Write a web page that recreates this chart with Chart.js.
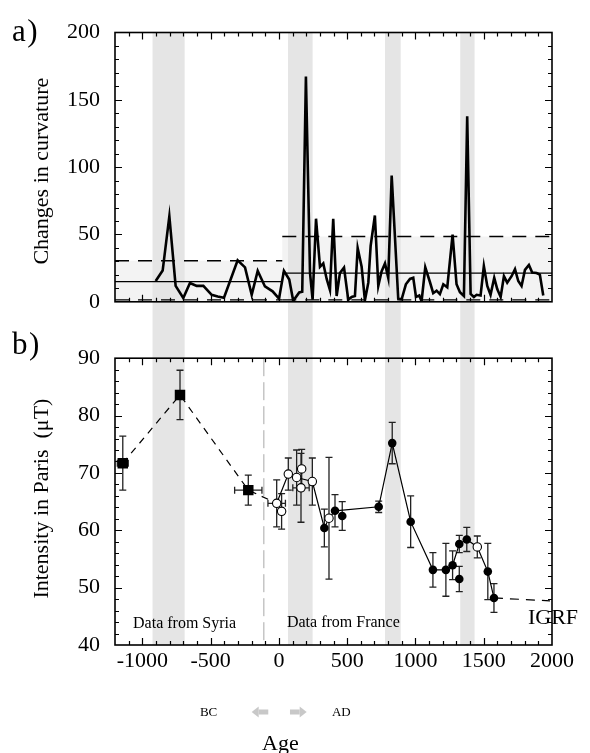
<!DOCTYPE html>
<html>
<head>
<meta charset="utf-8">
<title>Curvature changes and Paris intensity</title>
<script src="https://cdn.jsdelivr.net/npm/chart.js@4.4.0/dist/chart.umd.min.js"></script>
<style>
  html, body { margin: 0; padding: 0; background: #fff; }
  #wrap  { position: relative; width: 590px; height: 753px; }
  .panel { position: absolute; left: 0; width: 590px; }
  #topBox { top: 0;     height: 330px; }
  #botBox { top: 330px; height: 423px; }
</style>
</head>
<body>
<div id="wrap">
  <div class="panel" id="topBox"><canvas id="curvChart"></canvas></div>
  <div class="panel" id="botBox"><canvas id="intChart"></canvas></div>
</div>
<script>
'use strict';

/* ── a) changes in curvature ── */
const curvYears  = [-902, -851, -802, -756, -700, -651, -602, -553, -492, -448, -402, -302, -248, -199, -155, -102, -46, 1,
                    37, 76, 105, 149, 171, 198, 228, 247, 272, 301, 325, 350, 374, 398, 423, 447, 477, 508, 533, 557, 577,
                    606, 630, 655, 672, 703, 728, 752, 777, 801, 826, 874, 899, 930, 960, 984, 1004, 1028, 1045, 1072,
                    1106, 1130, 1155, 1179, 1204, 1233, 1272, 1301, 1326, 1355, 1379, 1404, 1428, 1448, 1477, 1501, 1526,
                    1550, 1577, 1599, 1624, 1648, 1672, 1704, 1729, 1753, 1777, 1802, 1831, 1855, 1887, 1911, 1936];
const curvValues = [15.4, 23.2, 63.6, 11.8, 2.8, 14, 11.8, 11.8, 5.2, 4, 3, 30.8, 25.6, 5.2, 23, 11.4, 7.8, 2.3,
                    23, 16.6, 0.7, 7, 7.5, 167.3, 21.4, 1.6, 61.7, 26, 28.5, 17, 8.8, 61.7, 4.3, 21.4, 25.4, 1.5, 3.6, 4.3, 39.9,
                    26, 1.1, 14.2, 41.5, 64.1, 11.8, 22.5, 28.5, 17.8, 93.7, 2.3, 1.9, 13, 17, 17.8, 3.6, 4.7, 0.4, 25.6,
                    14.7, 6.4, 8.3, 5.7, 13, 10.7, 49.9, 13, 7.1, 4.3, 137.7, 5.9, 3.6, 5.2, 4.7, 26.6, 11.8,
                    5.2, 17.8, 9.5, 3.6, 19, 14.2, 19, 24.2, 15.4, 11.8, 23.7, 27.3, 21.8, 21.4, 20.2, 4.7];
const curvTicks    = [0, 50, 100, 150, 200];

// two regimes (before / after the Syria-France switch): mean and bounds
const regimeBreaks = [-1200, 25, 2000];
const regimeMean   = [15, 21.3];
const regimeUpper  = [30.5, 48.5];
const regimeLower  = [1.5, 1.5];

// grey periods, years
const bandStart = [-925, 67, 777, 1328];
const bandEnd   = [-690, 247, 892, 1433];

/* ── b) intensity in Paris ── */
const ageTicks       = [-1000, -500, 0, 500, 1000, 1500, 2000];
const intensityTicks = [40, 50, 60, 70, 80, 90];

const syriaYears = [-1143, -724, -224];
const syriaInt   = [71.7, 83.6, 67.0];
const syriaErrY  = [4.7, 4.3, 2.6];
const syriaErrX  = [40, 0, 100];

const franceYears = [333, 411, 464, 731, 830, 965, 1128, 1223, 1272, 1321, 1321, 1376, 1530, 1575];
const franceInt   = [60.4, 63.4, 62.5, 64.1, 75.2, 61.5, 53.1, 53.1, 53.9, 51.5, 57.6, 58.4, 52.8, 48.2];
const franceErrY  = [3.3, 2.8, 2.5, 1.0, 3.6, 4.5, 3.0, 4.6, 2.5, 2.2, 1.5, 2.1, 4.9, 2.5];

const openYears = [-16, 20, 69, 130, 167, 162, 245, 367, 1453];
const openInt   = [64.7, 63.3, 69.8, 69.2, 70.7, 67.4, 68.5, 62.1, 57.1];
const openErrY  = [4.1, 3.1, 2.8, 4.8, 3.4, 6.0, 4.1, 10.6, 1.9];
const openErrX  = [64, 0, 0, 0, 0, 60, 0, 0, 0];

const trendYears = [-16, 69, 130, 245, 333, 367, 411, 731, 830, 965, 1128, 1223, 1272, 1321, 1376, 1453, 1530, 1575];
const trendInt   = [64.7, 69.8, 69.2, 68.5, 60.4, 62.1, 63.4, 64.1, 75.2, 61.5, 53.1, 53.1, 53.9, 57.6, 58.4, 57.1, 52.8, 48.2];

const syriaLinkYears = [-1143, -724, -224, -16];
const syriaLinkInt   = [71.7, 83.6, 67.0, 64.7];
const igrfYears = [1575, 1985];
const igrfInt   = [48.2, 47.7];
const splitYear = -110;

const SERIF = '"Liberation Serif", "Times New Roman", "DejaVu Serif", serif';
Chart.defaults.font.family = SERIF;
Chart.defaults.color = '#000';

const pt = (xs, ys) => xs.map((x, i) => ({ x, y: ys[i] }));

function drawBands(chart, yTop, yBottom) {
    const { ctx, scales: { x } } = chart;
    ctx.save();
    ctx.fillStyle = '#e5e5e5';
    bandStart.forEach((s, i) => {
        const x0 = x.getPixelForValue(s), x1 = x.getPixelForValue(bandEnd[i]);
        ctx.fillRect(x0, yTop, x1 - x0, yBottom - yTop);
    });
    ctx.restore();
}

function drawFrame(chart, yMinor, yMajor) {
    const { ctx, chartArea: a, scales: { x, y } } = chart;
    ctx.save();
    ctx.strokeStyle = '#000';
    ctx.lineWidth = 1.2;
    ctx.beginPath();
    for (let v = x.min + 100; v < x.max; v += 100) {
        const px = Math.round(x.getPixelForValue(v)) + 0.5;
        const len = v % 500 === 0 ? 7 : 4;
        ctx.moveTo(px, a.bottom); ctx.lineTo(px, a.bottom - len);
        ctx.moveTo(px, a.top);    ctx.lineTo(px, a.top + len);
    }
    for (let v = y.min + yMinor; v < y.max; v += yMinor) {
        const py = Math.round(y.getPixelForValue(v)) + 0.5;
        const len = Math.abs(v % yMajor) < 1e-6 ? 7 : 4;
        ctx.moveTo(a.left, py);  ctx.lineTo(a.left + len, py);
        ctx.moveTo(a.right, py); ctx.lineTo(a.right - len, py);
    }
    ctx.stroke();
    ctx.lineWidth = 1.6;
    ctx.strokeRect(a.left, a.top, a.width, a.height);
    ctx.restore();
}

function drawErrorBars(chart, xs, ys, ey, ex) {
    const { ctx, scales: { x, y } } = chart;
    const cap = 3.5;
    ctx.save();
    ctx.strokeStyle = '#222';
    ctx.lineWidth = 1.3;
    ctx.beginPath();
    xs.forEach((v, i) => {
        const px = x.getPixelForValue(v), py = y.getPixelForValue(ys[i]);
        if (ey && ey[i]) {
            const t = y.getPixelForValue(ys[i] + ey[i]), b = y.getPixelForValue(ys[i] - ey[i]);
            ctx.moveTo(px, t); ctx.lineTo(px, b);
            ctx.moveTo(px - cap, t); ctx.lineTo(px + cap, t);
            ctx.moveTo(px - cap, b); ctx.lineTo(px + cap, b);
        }
        if (ex && ex[i]) {
            const l = x.getPixelForValue(v - ex[i]), r = x.getPixelForValue(v + ex[i]);
            ctx.moveTo(l, py); ctx.lineTo(r, py);
            ctx.moveTo(l, py - cap); ctx.lineTo(l, py + cap);
            ctx.moveTo(r, py - cap); ctx.lineTo(r, py + cap);
        }
    });
    ctx.stroke();
    ctx.restore();
}

function text(ctx, str, x, y, size, align = 'left', color = '#000') {
    ctx.save();
    ctx.font = `${size}px ${SERIF}`;
    ctx.fillStyle = color;
    ctx.textAlign = align;
    ctx.textBaseline = 'alphabetic';
    ctx.fillText(str, x, y);
    ctx.restore();
}

// panel letter with its bracket set a touch apart, as in the figure
function panelTag(ctx, letter, x, y) {
    ctx.save();
    ctx.font = `31px ${SERIF}`;
    ctx.fillStyle = '#000';
    ctx.textBaseline = 'alphabetic';
    ctx.fillText(letter, x, y);
    ctx.fillText(')', x + ctx.measureText(letter).width + 1.5, y);
    ctx.restore();
}

function yTitle(ctx, str, cx, cy, size) {
    ctx.save();
    ctx.translate(cx, cy);
    ctx.rotate(-Math.PI / 2);
    ctx.font = `${size}px ${SERIF}`;
    ctx.fillStyle = '#000';
    ctx.textAlign = 'center';
    ctx.textBaseline = 'middle';
    ctx.fillText(str, 0, 0);
    ctx.restore();
}

function arrow(ctx, xTail, xHead, y) {
    const dir = Math.sign(xHead - xTail);
    const neck = xHead - dir * 7;
    ctx.save();
    ctx.fillStyle = '#c8c8c8';
    ctx.fillRect(Math.min(xTail, neck), y - 2.5, Math.abs(neck - xTail), 5);
    ctx.beginPath();
    ctx.moveTo(neck, y - 5.5); ctx.lineTo(xHead, y); ctx.lineTo(neck, y + 5.5);
    ctx.closePath(); ctx.fill();
    ctx.restore();
}

const topDecor = {
    id: 'topDecor',
    beforeDatasetsDraw(chart) {
        const { ctx, chartArea: a, scales: { x, y } } = chart;
        ctx.save();
        ctx.fillStyle = '#f3f3f3';
        regimeUpper.forEach((u, i) => {
            const x0 = x.getPixelForValue(regimeBreaks[i]), x1 = x.getPixelForValue(regimeBreaks[i + 1]);
            const yu = y.getPixelForValue(u);
            ctx.fillRect(x0, yu, x1 - x0, a.bottom - yu);
        });
        ctx.restore();
        drawBands(chart, a.top, chart.height);
    },
    afterDatasetsDraw(chart) {
        const { ctx, chartArea: a } = chart;
        drawFrame(chart, 10, 50);
        panelTag(ctx, 'a', 12, 41);
        yTitle(ctx, 'Changes in curvature', 42, (a.top + a.bottom) / 2 + 4, 22);
    }
};

const bottomDecor = {
    id: 'bottomDecor',
    beforeDatasetsDraw(chart) {
        const { ctx, chartArea: a, scales: { x } } = chart;
        drawBands(chart, 0, a.bottom);
        const sx = x.getPixelForValue(splitYear);
        ctx.save();
        ctx.strokeStyle = '#a8a8a8';
        ctx.lineWidth = 1;
        ctx.setLineDash([18, 6]);
        ctx.beginPath(); ctx.moveTo(sx, a.top); ctx.lineTo(sx, a.bottom); ctx.stroke();
        ctx.restore();
        drawErrorBars(chart, syriaYears, syriaInt, syriaErrY, syriaErrX);
        drawErrorBars(chart, franceYears, franceInt, franceErrY, null);
        drawErrorBars(chart, openYears, openInt, openErrY, openErrX);
    },
    afterDatasetsDraw(chart) {
        const { ctx, chartArea: a, scales: { x, y } } = chart;
        drawFrame(chart, 2, 10);
        panelTag(ctx, 'b', 12, 24);
        yTitle(ctx, 'Intensity in Paris  (\u03BCT)', 42, (a.top + a.bottom) / 2 - 3, 22);
        text(ctx, 'Data from Syria',  x.getPixelForValue(-1068), y.getPixelForValue(42.9), 16);
        text(ctx, 'Data from France', x.getPixelForValue(59),    y.getPixelForValue(43.1), 16);
        text(ctx, 'IGRF',             x.getPixelForValue(1824),  y.getPixelForValue(43.7), 22);
        const p0 = x.getPixelForValue(0);
        text(ctx, 'BC', p0 - 79, a.bottom + 71, 13);
        text(ctx, 'AD', p0 + 53, a.bottom + 71, 13);
        arrow(ctx, p0 - 10.6, p0 - 27.2, a.bottom + 67);
        arrow(ctx, p0 + 11.1, p0 + 27.8, a.bottom + 67);
        text(ctx, 'Age', p0 + 1.5, a.bottom + 105, 22, 'center');
    }
};

/* ── top chart ── */
const regimeSets = [];
for (let i = 0; i < regimeMean.length; i++) {
    const seg = [regimeBreaks[i], regimeBreaks[i + 1]];
    const flat = v => pt(seg, [v, v]);
    regimeSets.push(
        { data: flat(regimeUpper[i]), showLine: true, borderColor: '#000', borderWidth: 1.3, borderDash: [14, 9], pointRadius: 0 },
        { data: flat(regimeLower[i]), showLine: true, borderColor: '#000', borderWidth: 1.3, borderDash: [14, 9], pointRadius: 0 },
        { data: flat(regimeMean[i]),  showLine: true, borderColor: '#000', borderWidth: 1.3, pointRadius: 0 }
    );
}

new Chart(document.getElementById('curvChart'), {
    type: 'scatter',
    data: {
        datasets: [
            { data: pt(curvYears, curvValues), showLine: true, borderColor: '#000', borderWidth: 2.6,
              pointRadius: 0, tension: 0, borderJoinStyle: 'miter' },
            ...regimeSets
        ]
    },
    options: {
        responsive: true, maintainAspectRatio: false, animation: false, devicePixelRatio: 1,
        layout: { padding: { top: 32.5, right: 38, bottom: 16.7, left: 0 } },
        plugins: { legend: { display: false }, tooltip: { enabled: false } },
        scales: {
            x: { type: 'linear', min: -1200, max: 2000, display: false },
            y: {
                min: 0, max: 200,
                afterFit: s => { s.width = 115; },
                afterBuildTicks: s => { s.ticks = curvTicks.map(v => ({ value: v })); },
                grid: { display: false, drawTicks: false }, border: { display: false },
                ticks: { padding: 15, font: { size: 22 }, color: '#000', callback: v => String(v) }
            }
        }
    },
    plugins: [topDecor]
});

/* ── bottom chart ── */
new Chart(document.getElementById('intChart'), {
    type: 'scatter',
    data: {
        datasets: [
            { data: pt(openYears, openInt), pointRadius: 4.2, pointBackgroundColor: '#fff', pointBorderColor: '#000', pointBorderWidth: 1.1 },
            { data: pt(franceYears, franceInt), pointRadius: 4.3, pointBackgroundColor: '#000', pointBorderColor: '#000', pointBorderWidth: 0 },
            { data: pt(syriaYears, syriaInt), pointStyle: 'rect', pointRadius: 7.4, pointBackgroundColor: '#000', pointBorderColor: '#000', pointBorderWidth: 0 },
            { data: pt(trendYears, trendInt), showLine: true, borderColor: '#000', borderWidth: 1.2, pointRadius: 0 },
            { data: pt(syriaLinkYears, syriaLinkInt), showLine: true, borderColor: '#000', borderWidth: 1.2, borderDash: [7, 6], pointRadius: 0 },
            { data: pt(igrfYears, igrfInt), showLine: true, borderColor: '#000', borderWidth: 1.2, borderDash: [9, 7], pointRadius: 0 }
        ]
    },
    options: {
        responsive: true, maintainAspectRatio: false, animation: false, devicePixelRatio: 1,
        layout: { padding: { top: 18.8, right: 38, bottom: 0, left: 0 } },
        plugins: { legend: { display: false }, tooltip: { enabled: false } },
        scales: {
            x: {
                type: 'linear', min: -1200, max: 2000,
                afterFit: s => { s.height = 108; },
                afterBuildTicks: s => { s.ticks = ageTicks.map(v => ({ value: v })); },
                grid: { display: false, drawTicks: false }, border: { display: false },
                ticks: { padding: 3, font: { size: 22 }, color: '#000', maxRotation: 0, autoSkip: false, callback: v => String(v) }
            },
            y: {
                min: 40, max: 90,
                afterFit: s => { s.width = 115; },
                afterBuildTicks: s => { s.ticks = intensityTicks.map(v => ({ value: v })); },
                grid: { display: false, drawTicks: false }, border: { display: false },
                ticks: { padding: 15, font: { size: 22 }, color: '#000', callback: v => String(v) }
            }
        }
    },
    plugins: [bottomDecor]
});
</script>
</body>
</html>
